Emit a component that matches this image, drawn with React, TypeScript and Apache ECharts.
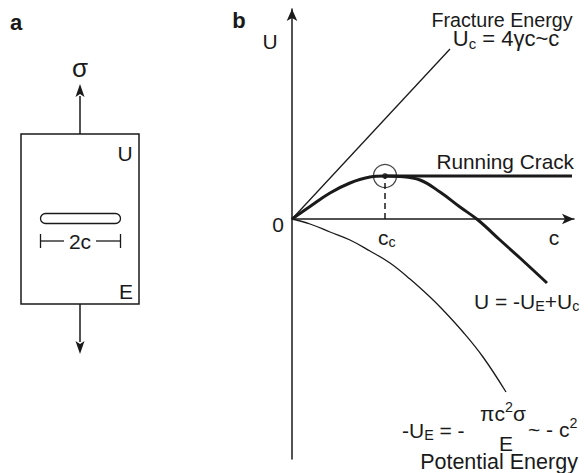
import React, { useEffect, useRef } from "react";
import * as echarts from "echarts";

// Energy curves of a loaded plate containing a crack of length 2c (x: crack size c, y: energy U)
const fractureEnergy: [number, number][] = [
  [0, 0],
  [15.8, 17.0],
];
const runningCrack: [number, number][] = [
  [9.3, 4.3],
  [28.0, 4.3],
];
const totalEnergy: [number, number][] = [
  [0, 0],
  [1.8, 1.25],
  [3.8, 2.6],
  [5.8, 3.6],
  [7.8, 4.2],
  [9.3, 4.3],
  [10.8, 4.25],
  [12.8, 3.9],
  [14.8, 2.7],
  [16.8, 1.2],
  [18.6, -0.1],
  [20.8, -2.1],
  [22.8, -3.9],
  [25.5, -6.4],
];
const potentialEnergy: [number, number][] = [
  [0, 0],
  [1.8, -0.5],
  [3.8, -1.3],
  [5.8, -2.1],
  [7.8, -3.2],
  [9.8, -4.4],
  [11.8, -6.0],
  [13.8, -7.8],
  [15.1, -9.1],
  [17.1, -11.3],
  [19.1, -13.8],
  [21.4, -17.3],
];
const criticalPoint: [number, number][] = [[9.3, 4.3]];
const criticalDrop: [number, number][] = [
  [9.3, 0],
  [9.3, 4.3],
];

const FONT = '"Liberation Sans", Arial, Helvetica, sans-serif';
const INK = "#1a1a1a";

type TextOpts = {
  size?: number;
  weight?: string;
  align?: "left" | "center" | "right";
  rich?: Record<string, any>;
};

function txt(text: string, x: number, y: number, o: TextOpts = {}) {
  const align = o.align || "center";
  const size = o.size || 20;
  return {
    type: "text",
    x,
    y,
    silent: true,
    style: {
      text,
      fill: INK,
      fontFamily: FONT,
      fontSize: size,
      lineHeight: size,
      fontWeight: o.weight || "normal",
      align,
      verticalAlign: "middle",
      textAlign: align,
      textVerticalAlign: "middle",
      rich: o.rich,
    },
  };
}

// rich styles: main text, subscript (shifted down by top padding), superscript (shifted up)
function richSet(size: number) {
  const base = { fontFamily: FONT, fill: INK, color: INK, lineHeight: 18, verticalAlign: "middle" };
  return {
    m: { ...base, fontSize: size },
    s: { ...base, fontSize: size * 0.68, padding: [10, 0, 0, 0] },
    p: { ...base, fontSize: size * 0.68, padding: [0, 0, 12, 0] },
  };
}

function line(x1: number, y1: number, x2: number, y2: number, w = 1.5) {
  return {
    type: "line",
    silent: true,
    shape: { x1, y1, x2, y2 },
    style: { stroke: INK, lineWidth: w },
  };
}

function arrowHead(x: number, tipY: number, dir: 1 | -1) {
  // dir -1: pointing up, 1: pointing down
  return {
    type: "polygon",
    silent: true,
    shape: {
      points: [
        [x, tipY],
        [x - 4.5, tipY - dir * 13],
        [x, tipY - dir * 10],
        [x + 4.5, tipY - dir * 13],
      ],
    },
    style: { fill: INK },
  };
}

export default function App() {
  const ref = useRef<HTMLDivElement>(null);

  useEffect(() => {
    if (!ref.current) return;
    const chart = echarts.init(ref.current, undefined, { renderer: "svg" });

    const lineSeries = (data: [number, number][], width: number, extra: any = {}) => ({
      type: "line",
      data,
      symbol: "none",
      clip: false,
      silent: true,
      lineStyle: { color: INK, width },
      ...extra,
    });

    const r21 = richSet(21);
    const r22 = richSet(22);

    chart.setOption({
      animation: false,
      backgroundColor: "#ffffff",
      grid: { left: 292, top: 9, width: 282, height: 450, containLabel: false },
      xAxis: {
        type: "value",
        min: 0,
        max: 28.2,
        axisLine: {
          onZero: true,
          symbol: ["none", "arrow"],
          symbolSize: [8, 12],
          lineStyle: { color: INK, width: 1.5 },
        },
        axisTick: { show: false },
        axisLabel: { show: false },
        splitLine: { show: false },
      },
      yAxis: {
        type: "value",
        min: -24,
        max: 21,
        axisLine: {
          onZero: true,
          symbol: ["none", "arrow"],
          symbolSize: [8, 12],
          lineStyle: { color: INK, width: 1.5 },
        },
        axisTick: { show: false },
        axisLabel: { show: false },
        splitLine: { show: false },
      },
      series: [
        lineSeries(fractureEnergy, 1.3),
        lineSeries(potentialEnergy, 1.3, { smooth: 0.4 }),
        lineSeries(runningCrack, 3),
        lineSeries(totalEnergy, 3, { smooth: 0.4 }),
        lineSeries(criticalDrop, 1.5, { lineStyle: { color: INK, width: 1.5, type: [6, 4] } }),
        {
          type: "scatter",
          data: criticalPoint,
          symbol: "circle",
          symbolSize: 23,
          silent: true,
          itemStyle: { color: "rgba(0,0,0,0)", borderColor: INK, borderWidth: 1.3 },
        },
        {
          type: "scatter",
          data: criticalPoint,
          symbol: "circle",
          symbolSize: 6,
          silent: true,
          itemStyle: { color: INK },
        },
      ],
      graphic: [
        // panel a: plate with central crack under tension
        txt("a", 16, 22, { weight: "bold", size: 22 }),
        txt("σ", 80, 68, { size: 26 }),
        line(80, 134, 80, 96),
        arrowHead(80, 84, -1),
        {
          type: "rect",
          silent: true,
          shape: { x: 21, y: 134, width: 118, height: 170 },
          style: { fill: "none", stroke: INK, lineWidth: 1.5 },
        },
        txt("U", 125, 153, { size: 21 }),
        {
          type: "rect",
          silent: true,
          shape: { x: 40.5, y: 213.5, width: 80, height: 10, r: 5 },
          style: { fill: "none", stroke: INK, lineWidth: 1.3 },
        },
        line(40.5, 234, 40.5, 248, 1.3),
        line(40.5, 241, 64, 241, 1.3),
        line(96, 241, 120.5, 241, 1.3),
        line(120.5, 234, 120.5, 248, 1.3),
        txt("2c", 80, 241, { size: 21 }),
        txt("E", 126, 291, { size: 21 }),
        line(80, 304, 80, 342),
        arrowHead(80, 354, 1),

        // panel b labels
        txt("b", 239, 20, { weight: "bold", size: 22 }),
        txt("U", 270, 41, { size: 21 }),
        txt("0", 278, 224, { size: 21 }),
        txt("{m|c}{s|c}", 378, 237, { align: "left", rich: r21 }),
        txt("c", 554, 237, { size: 21 }),
        txt("Fracture Energy", 502, 19.5, { size: 19.7 }),
        txt("{m|U}{s|c}{m| = 4γc~c}", 506, 38.5, { rich: r22 }),
        txt("Running Crack", 574, 161, { align: "right", size: 20.8 }),
        txt("{m|U = -U}{s|E}{m|+U}{s|c}", 474, 301, { align: "left", rich: r21 }),
        txt("{m|-U}{s|E}{m| = -}", 402, 430, { align: "left", rich: r21 }),
        txt("{m|πc}{p|2}{m|σ}", 503, 413, { rich: r21 }),
        txt("E", 506, 443, { size: 21 }),
        txt("{m|~ - c}{p|2}", 528, 429, { align: "left", rich: r21 }),
        txt("Potential Energy", 499, 462, { size: 21.5 }),
      ],
    });

    return () => chart.dispose();
  }, []);

  return (
    <div
      ref={ref}
      style={{ position: "fixed", left: 0, top: 0, width: 588, height: 473, background: "#fff" }}
    />
  );
}
